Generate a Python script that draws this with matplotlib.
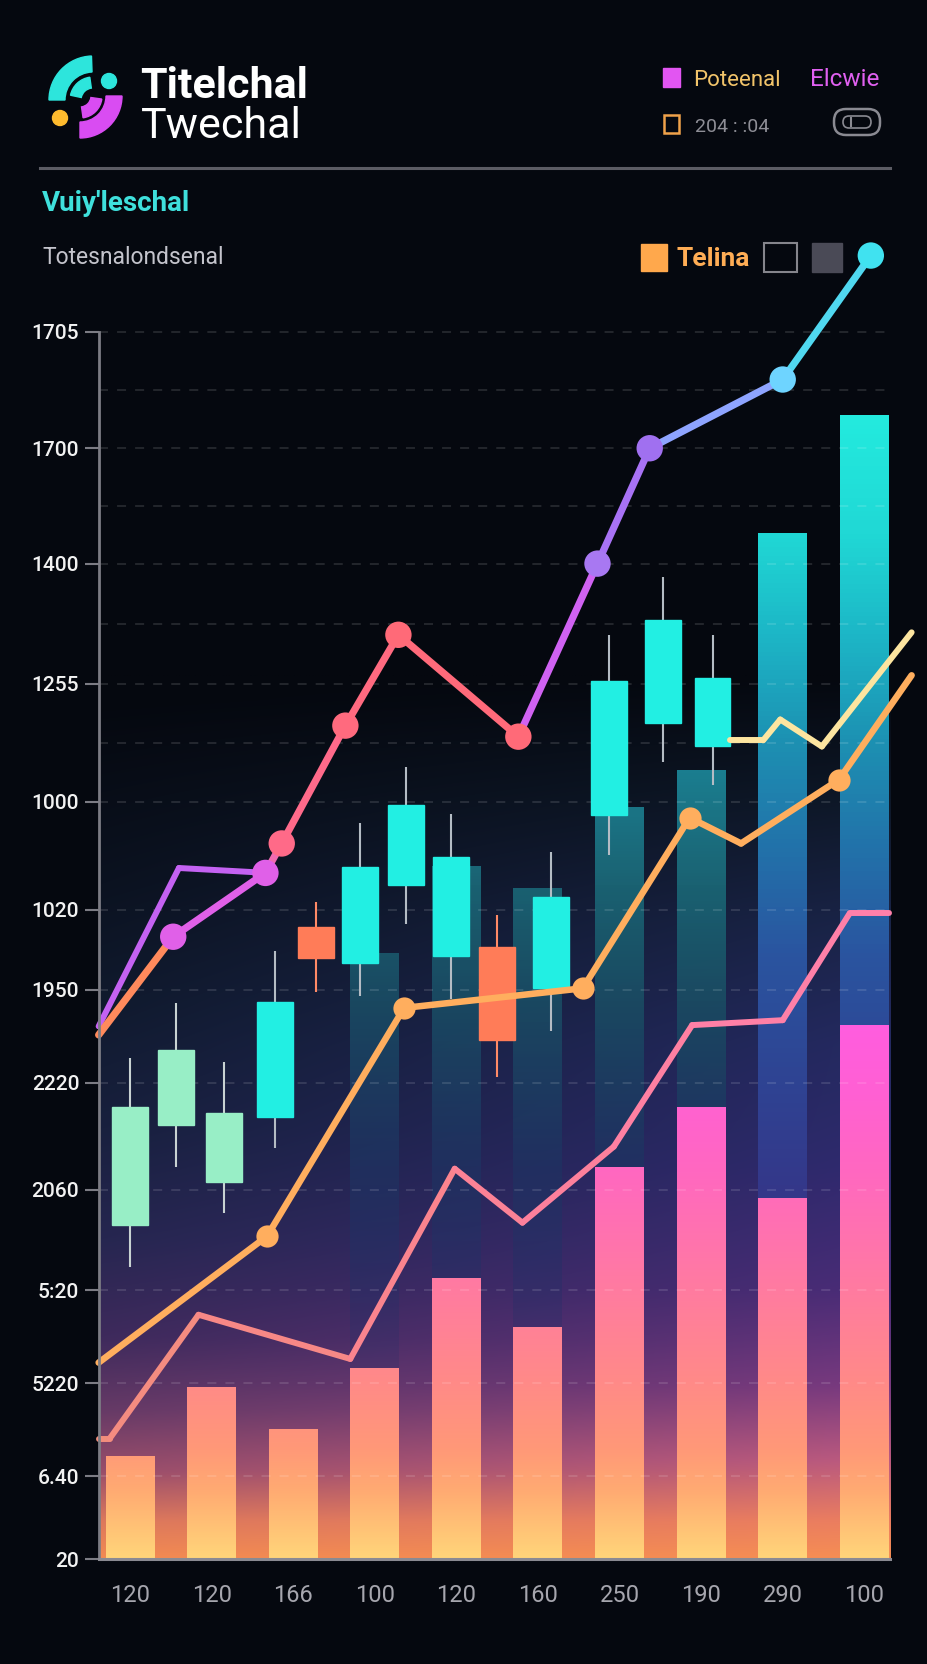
import numpy as np
import matplotlib
matplotlib.use('Agg')
import matplotlib.pyplot as plt
from matplotlib.colors import LinearSegmentedColormap, to_rgb, to_rgba
from matplotlib.patches import Rectangle, Wedge, Circle, FancyBboxPatch
from matplotlib.collections import LineCollection

plt.rcParams['font.family'] = ['Roboto', 'DejaVu Sans']

# ---- data (arbitrary 0..100 scale for the y axis) ----
x_labels = ['120', '120', '166', '100', '120', '160', '250', '190', '290', '100']
y_tick_vals = [100, 90.5, 81.1, 71.3, 61.7, 52.9, 46.4, 38.8, 30.1, 21.9, 14.3, 6.75, 0]
y_tick_labels = ['1705', '1700', '1400', '1255', '1000', '1020', '1950', '2220',
                 '2060', '5:20', '5220', '6.40', '20']
y_minor_grid = [95.25, 85.8, 76.2, 66.5]

bar_vals = [8.4, 14.0, 10.6, 15.6, 22.9, 18.9, 31.9, 36.8, 29.4, 43.5]

dim_col_pos = [3, 4, 5, 6, 7]
dim_col_vals = [49.4, 56.5, 54.7, 61.3, 64.3]
teal_col_pos = [8, 9]
teal_col_vals = [83.6, 93.2]

candle_x = [0.0, 0.56, 1.15, 1.78, 2.28, 2.82, 3.38, 3.94, 4.50, 5.16, 5.87, 6.53, 7.14]
candle_open = [27.2, 35.4, 30.7, 36.0, 51.5, 48.6, 54.9, 49.1, 49.9, 46.5, 60.6, 68.1, 66.2]
candle_close = [36.8, 41.5, 36.3, 45.4, 49.0, 56.4, 61.4, 57.2, 42.3, 53.9, 71.5, 76.5, 71.8]
candle_high = [40.8, 45.3, 40.5, 49.5, 53.5, 60.0, 64.5, 60.7, 52.5, 57.6, 75.3, 80.0, 75.3]
candle_low = [23.8, 31.9, 28.2, 33.5, 46.2, 45.9, 51.7, 45.6, 39.3, 43.0, 57.4, 64.9, 63.1]

# main rising line
main_x = [-0.384, 0.53, 1.66, 1.86, 2.64, 3.29, 4.76, 5.73, 6.37, 8.0, 9.08]
main_y = [42.7, 50.7, 55.9, 58.3, 67.9, 75.3, 67.0, 81.1, 90.5, 96.1, 106.2]
# violet side line
violet_x = [-0.384, 0.60, 1.68]
violet_y = [43.4, 56.3, 55.9]
# orange line
orange_x = [-0.384, 1.68, 3.36, 5.55, 6.86, 7.49, 8.69, 9.58]
orange_y = [16.0, 26.3, 44.9, 46.5, 60.4, 58.3, 63.5, 72.0]
orange_marks = [1, 2, 3, 4, 6]
# pale yellow line
yellow_x = [7.36, 7.76, 7.97, 8.48, 9.58]
yellow_y = [66.7, 66.7, 68.4, 66.2, 75.5]
# pink lower line
pink_x = [-0.384, -0.25, 0.84, 2.70, 3.98, 4.81, 5.93, 6.89, 8.0, 8.82, 9.3]
pink_y = [9.8, 9.8, 19.9, 16.3, 31.8, 27.4, 33.6, 43.5, 43.9, 52.6, 52.6]

BG = '#05080f'
X0, X1 = -0.384, 9.32

fig = plt.figure(figsize=(9.28, 16.64), dpi=100, facecolor=BG)

# overlay for header decorations, pixel coords
ov = fig.add_axes([0, 0, 1, 1], zorder=0)
ov.set_xlim(0, 928)
ov.set_ylim(1664, 0)
ov.axis('off')
ov.patch.set_alpha(0)

# logo
ov.add_patch(Wedge((93, 100), 44, 180, 268, width=16, color='#2de5dc'))
ov.add_patch(Wedge((93, 100), 23, 192, 262, width=11, color='#2de5dc'))
ov.add_patch(Circle((109, 81), 7.5, color='#2de5dc'))
ov.add_patch(Wedge((80, 96), 42, 0, 90, width=16, color='#d94cf2'))
ov.add_patch(Wedge((80, 96), 22, 8, 82, width=11, color='#d94cf2'))
ov.add_patch(Circle((60, 118), 7.5, color='#ffbb2e'))

ov.text(140, 98, 'Titelchal', color='white', fontsize=31, fontweight='bold', va='baseline')
ov.text(141, 138, 'Twechal', color='white', fontsize=31, va='baseline')

ov.add_patch(Rectangle((663, 68), 17, 19, color='#e255f2'))
ov.text(693, 86, 'Poteenal', color='#f2c46a', fontsize=16, va='baseline')
ov.text(810, 86, 'Elcwie', color='#e060f0', fontsize=17.5, va='baseline')
ov.add_patch(Rectangle((664, 115), 15, 18, fill=False, edgecolor='#f0a24a', lw=1.8))
ov.text(695, 132, '204 : :04', color='#8e8e96', fontsize=14, va='baseline')
ov.add_patch(FancyBboxPatch((834, 109), 46, 26, boxstyle='round,pad=0,rounding_size=12',
                            fill=False, edgecolor='#8a8a92', lw=1.8))
ov.add_patch(FancyBboxPatch((843, 116), 28, 12, boxstyle='round,pad=0,rounding_size=6',
                            fill=False, edgecolor='#8a8a92', lw=1.2))
ov.plot([851, 851], [118, 126], color='#8a8a92', lw=1.5)

ov.plot([40, 890], [168, 168], color='#5c5c64', lw=2.2)

ov.text(42, 211, "Vuiy'leschal", color='#3fe0dc', fontsize=20, fontweight='bold', va='baseline')
ov.text(42, 264, 'Totesnalondsenal', color='#c4c4cc', fontsize=16.5, va='baseline')

ov.add_patch(Rectangle((641, 244), 26, 27, color='#ffa84c'))
ov.text(677, 266, 'Telina', color='#ffad55', fontsize=19, fontweight='bold', va='baseline')
ov.add_patch(Rectangle((764, 243), 33, 29, fill=False, edgecolor='#85858c', lw=1.5))
ov.add_patch(Rectangle((812, 243), 30, 29, color='#4a4a56'))

# ---- main chart ----
ax = fig.add_axes([0.1063, 0.0631, 0.8866, 0.7966], zorder=1)
ax.patch.set_alpha(0)


def ramp(stops, v):
    vs = [s[0] for s in stops]
    cols = np.array([to_rgb(s[1]) for s in stops])
    return np.stack([np.interp(v, vs, cols[:, k]) for k in range(3)], axis=-1)


left_stops = [(0, '#f28a52'), (3, '#dc785c'), (7, '#9a4e6a'), (12, '#663a66'),
              (18, '#3e2a5c'), (26, '#262650'), (35, '#18203e'), (45, '#101a2e'),
              (55, '#0b1220'), (70, BG)]
right_stops = [(0, '#f68e54'), (3, '#ec7e60'), (8, '#bc5a80'), (14, '#7a3a80'),
               (22, '#4a2c78'), (32, '#302a70'), (42, '#252a62'), (52, '#1a2448'),
               (62, '#0e1828'), (72, BG)]
vv = np.linspace(0, 72, 300)
t = np.linspace(0, 1, 200)
grad = (ramp(left_stops, vv)[:, None, :] * (1 - t)[None, :, None]
        + ramp(right_stops, vv)[:, None, :] * t[None, :, None])
ax.imshow(grad, extent=(X0, X1, 0, 72), origin='lower', aspect='auto',
          interpolation='bilinear', zorder=0)

pink_cmap = LinearSegmentedColormap.from_list('pinkbar', [
    (0.0, '#ffd57a'), (0.05, '#ffc476'), (0.12, '#ffab72'), (0.2, '#ff9878'),
    (0.32, '#ff8a88'), (0.5, '#ff7aa2'), (0.7, '#ff68c0'), (0.85, '#ff60d4'),
    (1.0, '#ff5ce2')])
teal_cmap = LinearSegmentedColormap.from_list('tealbar', [
    (0.0, '#3a2f80'), (0.32, '#34388a'), (0.42, '#2e4594'), (0.52, '#2a55a0'),
    (0.61, '#2272aa'), (0.70, '#1d90b2'), (0.79, '#1cb5c6'), (0.88, '#20d8d5'),
    (1.0, '#24eee0')])
dim_cmap = LinearSegmentedColormap.from_list('dimbar', [
    (0.0, to_rgba('#2a2a68', 0.0)), (18 / 65, to_rgba('#24306a', 0.25)),
    (32 / 65, to_rgba('#1f3462', 0.7)), (45 / 65, to_rgba('#1a4a62', 0.95)),
    (55 / 65, to_rgba('#1a6272', 1.0)), (1.0, to_rgba('#1a8092', 1.0))])


def grad_bar(x, top, width, cmap, vmax, z):
    x0 = x - width / 2
    im = ax.imshow(np.linspace(0, 1, 256).reshape(-1, 1), extent=(x0, x0 + width, 0, vmax),
                   origin='lower', aspect='auto', cmap=cmap, vmin=0, vmax=1, zorder=z)
    im.set_clip_path(Rectangle((x0, 0), width, top, transform=ax.transData))


BW = 0.6
for p, v in zip(dim_col_pos, dim_col_vals):
    grad_bar(p, v, BW, dim_cmap, 65, 1)
for p, v in zip(teal_col_pos, teal_col_vals):
    grad_bar(p, v, BW, teal_cmap, 95, 1)
for i, v in enumerate(bar_vals):
    grad_bar(i, v, BW, pink_cmap, 45, 2)

# grid
ax.hlines(y_tick_vals, X0, X1, colors='#ffffff', alpha=0.13, linestyles=(0, (5, 5)), lw=1.3, zorder=3)
ax.hlines(y_minor_grid, X0, X1, colors='#ffffff', alpha=0.13, linestyles=(0, (5, 5)), lw=1.3, zorder=3)

# candles
CW = 0.44
for i, x in enumerate(candle_x):
    o, c, h, l = candle_open[i], candle_close[i], candle_high[i], candle_low[i]
    if c < o:
        body, wick = '#ff7c58', '#ff8a66'
    elif i < 3:
        body, wick = '#98eec6', '#c8d2d2'
    else:
        body, wick = '#22efe3', '#b4bcc4'
    ax.plot([x, x], [l, h], color=wick, lw=1.5, zorder=4, solid_capstyle='butt')
    ax.add_patch(Rectangle((x - CW / 2, min(o, c)), CW, abs(c - o), color=body, zorder=4.5))


def seg_line(xs, ys, colors, lw, z):
    pts = np.column_stack([xs, ys])
    segs = [pts[k:k + 2] for k in range(len(pts) - 1)]
    lc = LineCollection(segs, colors=colors, linewidths=lw, capstyle='round',
                        joinstyle='round', zorder=z, clip_on=False)
    ax.add_collection(lc)


# pink lower line
pink_cols = ['#f28e7c', '#f48c80', '#f78886', '#fa848e', '#fc8296', '#fd809c',
             '#fe80a2', '#ff80a6', '#ff80a8', '#ff80aa']
seg_line(pink_x, pink_y, pink_cols, 4.3, 5)

# orange line
seg_line(orange_x, orange_y, ['#ffae5e'] * (len(orange_x) - 1), 4.7, 5.2)
ax.scatter([orange_x[k] for k in orange_marks], [orange_y[k] for k in orange_marks],
           s=256, color='#ffae5e', zorder=5.3, linewidths=0)

# yellow line
seg_line(yellow_x, yellow_y, ['#fde5a0'] * (len(yellow_x) - 1), 4.3, 5.1)

# violet side line
seg_line(violet_x, violet_y, ['#c462f2', '#c462f2'], 4.3, 5.4)

# main line
main_seg_cols = ['#ff8a5c', '#e060e8', '#f06ab0', '#ff6a8a', '#ff6a80', '#ff6a7a',
                 '#d062f2', '#a872f5', '#8ea4ff', '#50d8f0']
seg_line(main_x, main_y, main_seg_cols, 5.2, 5.5)
main_mark_cols = ['#ff8a5c', '#e060e8', '#e060e8', '#ff6a88', '#ff6a7e', '#ff6a78',
                  '#ff6a78', '#a878f2', '#a070f0', '#6ed4ff', '#40e2f0']
ax.scatter(main_x[1:], main_y[1:], s=361, color=main_mark_cols[1:], zorder=5.6,
           linewidths=0, clip_on=False)

# axes styling
ax.set_xlim(X0, 9.7)
ax.set_ylim(0, 108)
for s in ['top', 'right']:
    ax.spines[s].set_visible(False)
ax.spines['left'].set_bounds(0, 100)
ax.spines['left'].set_color('#7c7c84')
ax.spines['left'].set_linewidth(2)
ax.spines['bottom'].set_bounds(X0, X1)
ax.spines['bottom'].set_color('#8a8a92')
ax.spines['bottom'].set_linewidth(2.2)
ax.spines['left'].set_zorder(6)
ax.spines['bottom'].set_zorder(6)

ax.set_yticks(y_tick_vals, y_tick_labels)
ax.tick_params(axis='y', direction='out', length=10, width=1.5, color='#7c7c84',
               pad=4, labelcolor='#f2f2f2', labelsize=15)
for lab in ax.get_yticklabels():
    lab.set_fontweight('medium')
ax.set_xticks(range(len(x_labels)), x_labels)
ax.tick_params(axis='x', length=0, pad=18, labelcolor='#a6a6ae', labelsize=17)

fig.savefig('out.png', dpi=100, facecolor=BG)
